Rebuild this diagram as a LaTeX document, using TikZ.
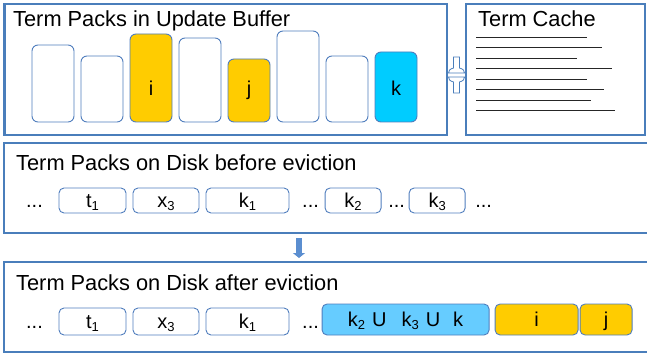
\documentclass[tikz,border=0pt]{standalone}
\usepackage{fontspec}
\setmainfont{Liberation Sans}
\usepackage{tikz}
\usetikzlibrary{arrows.meta,positioning,calc}
\definecolor{panelblue}{HTML}{4A7EBB}
\definecolor{packline}{HTML}{4F7DBD}
\definecolor{packgold}{HTML}{FFCC00}
\definecolor{packcyan}{HTML}{00CCFF}
\definecolor{mergeblue}{HTML}{66CCFF}
\definecolor{arrowfill}{HTML}{5B8ED0}
\newcommand{\sbs}[1]{\raisebox{-3.5pt}{\fontsize{13}{13}\selectfont #1}}

\begin{document}
\begin{tikzpicture}[
  x=1pt, y=-1pt,
  panel/.style={draw=panelblue, line width=2.4pt, anchor=north west, outer sep=0pt, inner sep=0pt},
  heading/.style={font=\fontsize{21.8}{26}\selectfont, inner sep=0pt, anchor=base west},
  pack/.style={draw=packline, line width=0.9pt, rounded corners=6pt, minimum width=42pt, outer sep=0pt, inner sep=0pt, anchor=south west},
  disk/.style={draw=packline, line width=0.9pt, rounded corners=5pt, minimum height=25pt, outer sep=0pt, inner sep=0pt,
    font=\fontsize{20}{24}\selectfont, text height=13pt, text depth=0pt},
  ellip/.style={font=\fontsize{20}{24}\selectfont, inner sep=0pt, text height=13pt, text depth=0pt},
  packlbl/.style={font=\fontsize{20}{24}\selectfont, inner sep=0pt, anchor=base},
  cacheline/.style={draw=black!85, line width=1pt},
  blockarr/.style={draw=arrowfill, line width=6pt, -{Triangle[length=5pt,width=12pt]}, shorten <=5pt, shorten >=4pt}
]
\useasboundingbox (0,0) rectangle (647,358);
% top row: buffer and cache
\node[panel, minimum width=442.5pt, minimum height=131pt] (buf) at (4.5,4) {};
\node[panel, minimum width=179pt, minimum height=131pt] (cache) at (466,4) {};
\node[heading] (buftitle) at ($(buf.north west)+(8.5,23)$) {Term Packs in Update Buffer};
\node[heading] (cachetitle) at ($(cache.north west)+(12,23)$) {Term Cache};
\foreach \i/\h/\col in {1/77/white, 2/66/white, 3/88/packgold, 4/84/white, 5/63/packgold, 6/91/white, 7/66/white, 8/70/packcyan}
  \node[pack, fill=\col, minimum height=\h pt] (p\i) at ($(buf.north west)+(27.5+49*\i-49,118)$) {};
\node[packlbl] (li) at ($(p3.south)+(0,-26)$) {i};
\node[packlbl] (lj) at ($(p5.south)+(0,-26)$) {j};
\node[packlbl] (lk) at ($(p8.south)+(0,-26)$) {k};
\foreach \dy/\len in {34/111, 44/126, 55/101, 65/136, 76/111, 86/128, 97/115, 107/139}
  \draw[cacheline] ($(cache.north west)+(10,\dy)$) -- ++(\len,0);
% swap glyph between buffer and cache
\begin{scope}[shift={($(buf.east)!0.5!(cache.west)+(0,5.5)$)}, draw=panelblue, fill=white, line width=0.8pt]
  \filldraw (-3,-18) -- (3,-18) -- (3,-7) .. controls (7,-6) and (8,-4) .. (8,-2) -- (-8,-2) .. controls (-8,-4) and (-7,-6) .. (-3,-7) -- cycle;
  \filldraw (-3,18) -- (3,18) -- (3,7) .. controls (7,6) and (8,4) .. (8,2) -- (-8,2) .. controls (-8,4) and (-7,6) .. (-3,7) -- cycle;
\end{scope}
% disk before eviction
\node[panel, minimum width=650pt, minimum height=90pt] (before) at (4,143) {};
\node[heading] (beforetitle) at ($(before.north west)+(12,28)$) {Term Packs on Disk before eviction};
\node[disk, minimum width=67pt, anchor=west] (bt) at ($(before.north west)+(55,57.5)$) {t\sbs{1}};
\node[ellip, left=16pt of bt] (bd1) {...};
\node[disk, minimum width=66pt, right=7pt of bt] (bx) {x\sbs{3}};
\node[disk, minimum width=83pt, right=7pt of bx] (bk1) {k\sbs{1}};
\node[ellip, right=13pt of bk1] (bd2) {...};
\node[disk, minimum width=56pt, right=6pt of bd2] (bk2) {k\sbs{2}};
\node[ellip, right=7pt of bk2] (bd3) {...};
\node[disk, minimum width=56pt, right=4pt of bd3] (bk3) {k\sbs{3}};
\node[ellip, right=10pt of bk3] (bd4) {...};
% disk after eviction
\node[panel, minimum width=650pt, minimum height=90pt] (after) at (4,262) {};
\node[heading] (aftertitle) at ($(after.north west)+(12,28)$) {Term Packs on Disk after eviction};
\node[disk, minimum width=67pt, minimum height=27pt, anchor=west] (at) at ($(after.north west)+(55,59.5)$) {t\sbs{1}};
\node[ellip, left=16pt of at] (ad1) {...};
\node[disk, minimum width=66pt, minimum height=27pt, right=7pt of at] (ax) {x\sbs{3}};
\node[disk, minimum width=83pt, minimum height=27pt, right=7pt of ax] (ak1) {k\sbs{1}};
\node[ellip, right=13pt of ak1] (ad2) {...};
\node[disk, fill=mergeblue, minimum width=167pt, minimum height=31pt, right=3pt of ad2, yshift=2pt] (merged) {k\sbs{2}\hspace{7pt}U\hspace{15pt}k\sbs{3}\hspace{7pt}U\hspace{13pt}k};
\node[disk, fill=packgold, minimum width=83pt, minimum height=31pt, right=6pt of merged] (ai) {i};
\node[disk, fill=packgold, minimum width=52pt, minimum height=31pt, right=2pt of ai] (aj) {j};
\coordinate (arrx) at (299,0);
\draw[blockarr] (before.south -| arrx) -- (after.north -| arrx);
\end{tikzpicture}
\end{document}
